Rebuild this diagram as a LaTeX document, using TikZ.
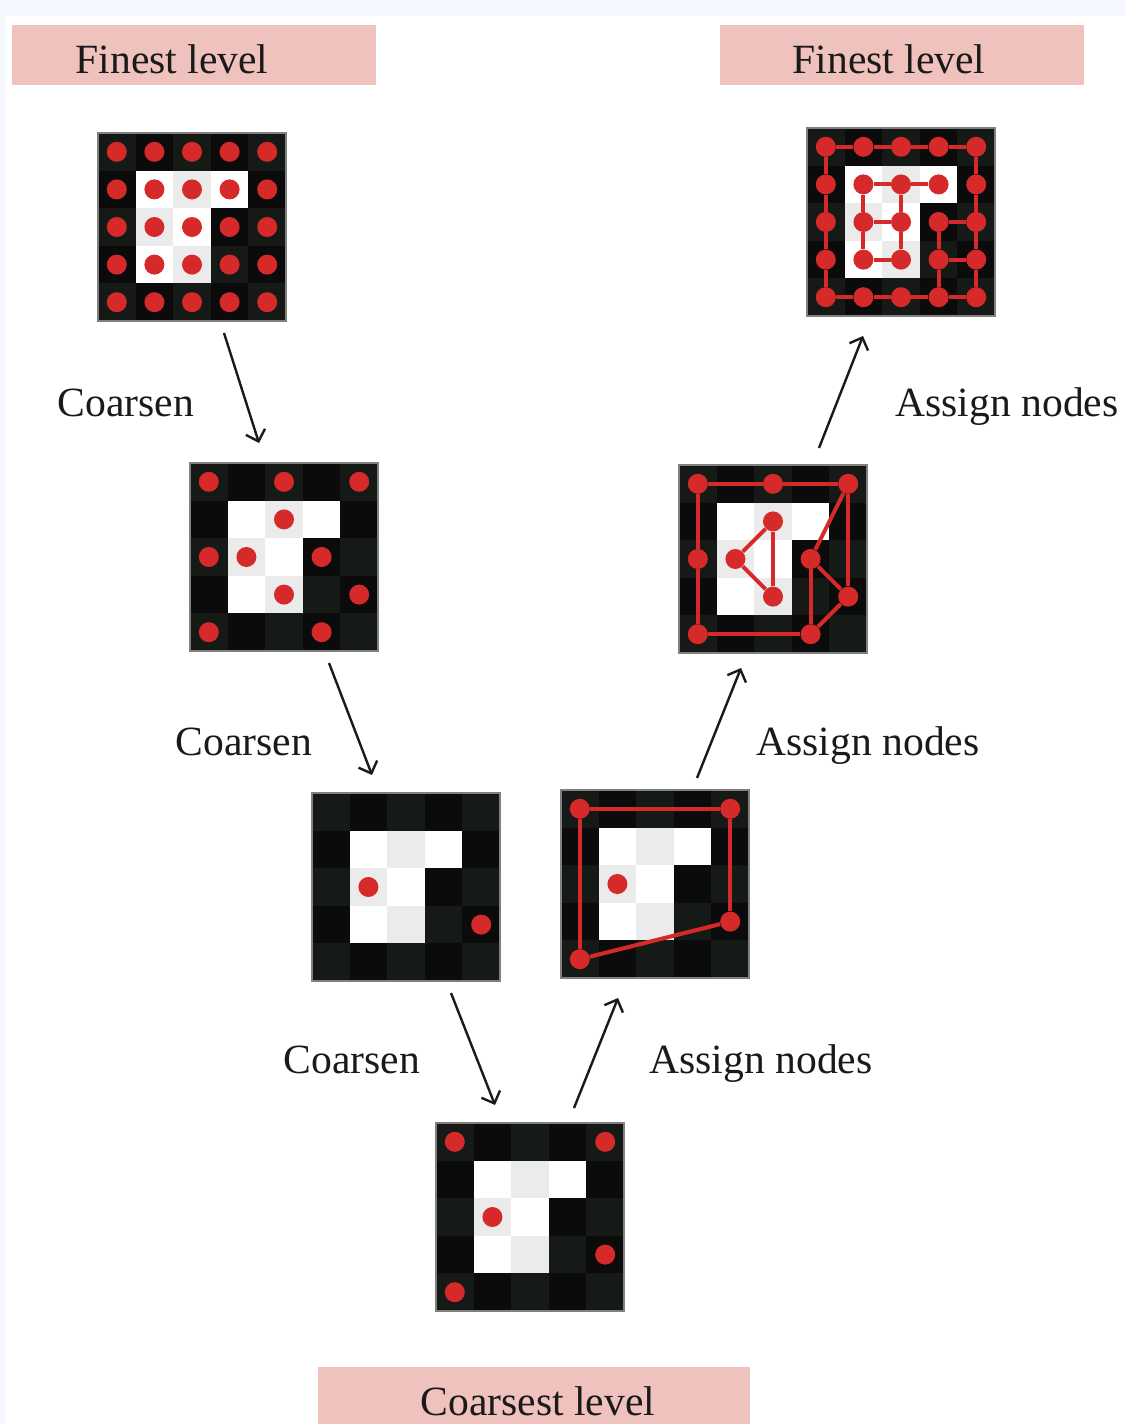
\documentclass[tikz,border=0pt]{standalone}
\usepackage{fontspec}
\setmainfont{Liberation Serif}
\usetikzlibrary{arrows.meta}
\definecolor{bgblue}{HTML}{F5F9FF}
\definecolor{pinkbox}{HTML}{F0C2BD}
\definecolor{dotred}{HTML}{D62A2A}
\definecolor{dkA}{HTML}{161A16}
\definecolor{dkB}{HTML}{0B0B0B}
\definecolor{cgray}{HTML}{EBEBEB}
\definecolor{gridedge}{HTML}{808080}
\definecolor{txt}{HTML}{1A1A1A}
\newcommand\cellsz{37.6}
\newcommand\gridat[4]{%
 \begin{scope}[shift={(#2,#3)}]
 \foreach \i in {0,...,4}{\foreach \j in {0,...,4}{%
   \pgfmathtruncatemacro\inw{((\i>0)&&(\i<3)&&(\j>0)&&(\j<4))||((\i==3)&&(\j==1))}%
   \pgfmathtruncatemacro\parity{mod(\i+\j,2)}%
   \ifnum\inw=1 \ifnum\parity=1 \def\cc{cgray}\else\def\cc{white}\fi
   \else \ifnum\parity=0 \def\cc{dkA}\else\def\cc{dkB}\fi\fi
   \fill[\cc] ({\i*\cellsz},{\j*\cellsz}) rectangle ++(38.1,38.1);
 }}
 \node[gridbox] (#1) at (0,0) {};
 \foreach \i/\j in {#4} \node[dot] (#1-\i-\j) at ({(\i+0.5)*\cellsz},{(\j+0.5)*\cellsz}) {};
 \end{scope}}
\begin{document}
\begin{tikzpicture}[x=0.5pt,y=-0.5pt,
  gridbox/.style={draw=gridedge,line width=0.7pt,anchor=north west,minimum width=94pt,minimum height=94pt,inner sep=0pt,outer sep=0pt},
  dot/.style={circle,fill=dotred,inner sep=0pt,minimum size=10pt},
  redge/.style={draw=dotred,line width=2pt},
  flow/.style={draw=txt,line width=1.2pt,-{Straight Barb[length=5pt,width=10pt]}},
  lab/.style={text=txt,font=\fontsize{20.8}{25}\selectfont,anchor=base,inner sep=0pt},
  pink/.style={fill=pinkbox}]
\useasboundingbox (0,0) rectangle (1126,1424);
\fill[bgblue] (0,0) rectangle (1126,1424);
\fill[white] (5,16) rectangle (1126,1424);
% level boxes
\fill[pink] (12,25) rectangle (376,85);
\fill[pink] (720,25) rectangle (1084,85);
\fill[pink] (318,1367) rectangle (750,1424);
\node[lab] (fl1) at (172,73) {Finest level};
\node[lab] (fl2) at (889,73) {Finest level};
\node[lab] (cl) at (538,1415) {Coarsest level};
% grids
\gridat{g1}{98}{133}{0/0,1/0,2/0,3/0,4/0,0/1,1/1,2/1,3/1,4/1,0/2,1/2,2/2,3/2,4/2,0/3,1/3,2/3,3/3,4/3,0/4,1/4,2/4,3/4,4/4}
\gridat{g2}{807}{128}{0/0,1/0,2/0,3/0,4/0,0/1,1/1,2/1,3/1,4/1,0/2,1/2,2/2,3/2,4/2,0/3,1/3,2/3,3/3,4/3,0/4,1/4,2/4,3/4,4/4}
\gridat{g3}{190}{463}{0/0,2/0,4/0,2/1,0/2,1/2,3/2,2/3,4/3,0/4,3/4}
\gridat{g4}{679}{465}{0/0,2/0,4/0,2/1,0/2,1/2,3/2,2/3,4/3,0/4,3/4}
\gridat{g5}{312}{793}{1/2,4/3}
\gridat{g6}{561}{790}{0/0,4/0,4/3,0/4,1/2}
\gridat{g7}{436}{1123}{0/0,4/0,1/2,4/3,0/4}
% edges of g2
\foreach \a/\b in {0-0/1-0,1-0/2-0,2-0/3-0,3-0/4-0,0-4/1-4,1-4/2-4,2-4/3-4,3-4/4-4,
  0-0/0-1,0-1/0-2,0-2/0-3,0-3/0-4,4-0/4-1,4-1/4-2,4-2/4-3,4-3/4-4,
  1-1/2-1,2-1/3-1,1-1/1-2,2-1/2-2,1-2/2-2,1-2/1-3,2-2/2-3,1-3/2-3,
  3-2/4-2,3-2/3-3,3-3/4-3,3-3/3-4}
  \draw[redge] (g2-\a) -- (g2-\b);
% edges of g4
\foreach \a/\b in {0-0/2-0,2-0/4-0,0-0/0-2,0-2/0-4,0-4/3-4,4-0/4-3,4-0/3-2,3-2/4-3,3-2/3-4,4-3/3-4,
  2-1/1-2,1-2/2-3,2-3/2-1}
  \draw[redge] (g4-\a) -- (g4-\b);
% edges of g6
\foreach \a/\b in {0-0/4-0,4-0/4-3,4-3/0-4,0-4/0-0}
  \draw[redge] (g6-\a) -- (g6-\b);
% arrows
\coordinate (c1s) at (224,333); \coordinate (c1e) at (259,443);
\coordinate (c2s) at (329,663); \coordinate (c2e) at (372,775);
\coordinate (c3s) at (451,993); \coordinate (c3e) at (495,1105);
\coordinate (u1s) at (574,1108); \coordinate (u1e) at (618,998);
\coordinate (u2s) at (697,778); \coordinate (u2e) at (741,668);
\coordinate (u3s) at (819,448); \coordinate (u3e) at (863,336);
\draw[flow] (c1s) -- (c1e);
\draw[flow] (c2s) -- (c2e);
\draw[flow] (c3s) -- (c3e);
\draw[flow] (u1s) -- (u1e);
\draw[flow] (u2s) -- (u2e);
\draw[flow] (u3s) -- (u3e);
% labels
\node[lab] (lc1) at (126,416) {Coarsen};
\node[lab] (lc2) at (244,755) {Coarsen};
\node[lab] (lc3) at (352,1073) {Coarsen};
\node[lab] (la1) at (1007,416) {Assign nodes};
\node[lab] (la2) at (868,755) {Assign nodes};
\node[lab] (la3) at (761,1073) {Assign nodes};
\end{tikzpicture}
\end{document}
